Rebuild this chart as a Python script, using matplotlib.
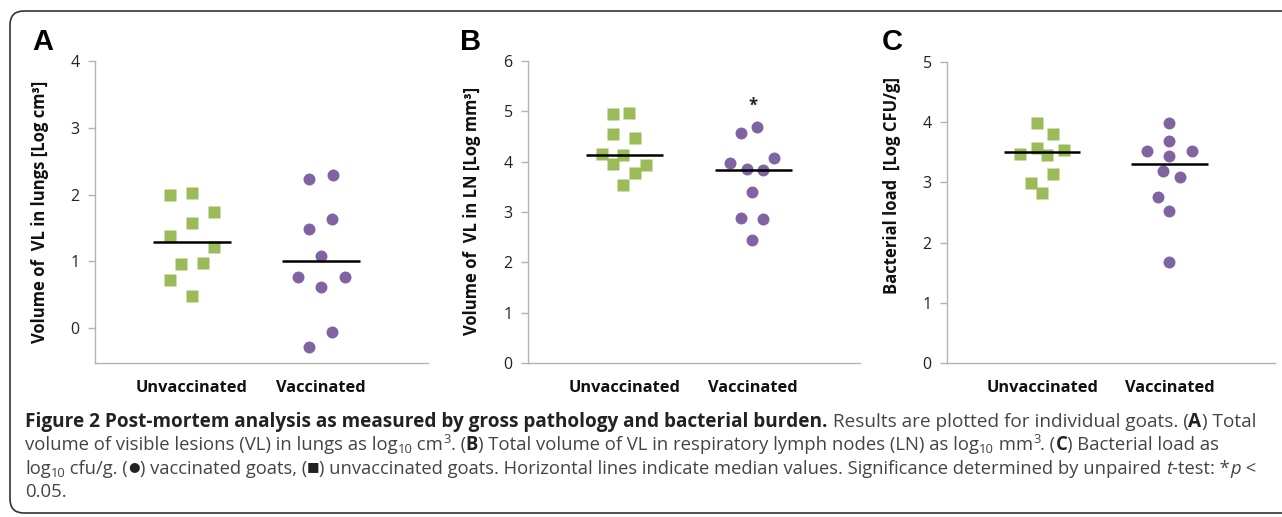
import numpy as np
import matplotlib
matplotlib.use('Agg')
import matplotlib.pyplot as plt
from matplotlib.patches import FancyBboxPatch
from matplotlib.transforms import IdentityTransform

W, H = 1282, 517
GREEN = '#9BBB59'
PURPLE = '#8064A2'
AXIS_GREY = '#b3b3b3'
FONT = ['Open Sans', 'DejaVu Sans']

categories = ['Unvaccinated', 'Vaccinated']

# (A) volume of visible lesions in lungs, log cm3
lung_unvacc = [2.00, 2.02, 1.74, 1.58, 1.38, 1.21, 0.96, 0.97, 0.72, 0.49]
lung_unvacc_jit = [-0.17, 0.0, 0.175, 0.0, -0.17, 0.175, -0.085, 0.085, -0.17, 0.0]
lung_vacc = [2.24, 2.30, 1.64, 1.48, 1.08, 0.76, 0.77, 0.62, -0.05, -0.28]
lung_vacc_jit = [-0.09, 0.095, 0.09, -0.095, 0.0, -0.18, 0.19, 0.0, 0.09, -0.095]
lung_medians = [1.29, 1.01]

# (B) volume of VL in respiratory lymph nodes, log mm3
ln_unvacc = [4.94, 4.97, 4.55, 4.48, 4.15, 4.13, 3.95, 3.94, 3.78, 3.54]
ln_unvacc_jit = [-0.09, 0.035, -0.09, 0.08, -0.175, -0.01, -0.09, 0.17, 0.08, -0.01]
ln_vacc = [4.57, 4.68, 3.97, 3.85, 3.83, 4.08, 3.39, 2.89, 2.86, 2.44]
ln_vacc_jit = [-0.095, 0.03, -0.18, -0.05, 0.075, 0.16, -0.01, -0.095, 0.075, -0.01]
ln_medians = [4.14, 3.83]

# (C) bacterial load, log CFU/g
cfu_unvacc = [3.99, 3.81, 3.48, 3.57, 3.54, 3.45, 3.14, 2.99, 2.82]
cfu_unvacc_jit = [-0.045, 0.08, -0.175, -0.045, 0.17, 0.04, 0.08, -0.09, 0.0]
cfu_vacc = [3.99, 3.68, 3.52, 3.52, 3.44, 3.19, 3.09, 2.75, 2.53, 1.68]
cfu_vacc_jit = [0.0, 0.0, -0.18, 0.18, 0.0, -0.05, 0.08, -0.09, 0.0, 0.0]
cfu_medians = [3.51, 3.31]


def px(x, y):
    # pixel position (from top-left) -> figure fraction
    return x / W, 1 - y / H


def draw_panel(ax, unvacc, unvacc_jit, vacc, vacc_jit, medians, ylim, yticks):
    pos = np.arange(1, len(categories) + 1)
    ax.plot(pos[0] + np.array(unvacc_jit), unvacc, 's', color=GREEN, ms=8, mec='none', zorder=2)
    ax.plot(pos[1] + np.array(vacc_jit), vacc, 'o', color=PURPLE, ms=8.6, mec='none', zorder=2)
    for p, m in zip(pos, medians):
        ax.plot([p - 0.30, p + 0.30], [m, m], color='black', lw=1.8, zorder=3, solid_capstyle='butt')
    ax.set_xlim(0.25, 2.83)
    ax.set_ylim(*ylim)
    ax.set_yticks(yticks)
    ax.set_yticklabels([str(t) for t in yticks], fontfamily=FONT, fontsize=11.5, color='#222222')
    ax.set_xticks(pos)
    ax.set_xticklabels(categories, fontfamily=FONT, fontsize=11.8, fontweight='bold', color='#111111')
    ax.tick_params(axis='x', length=0, pad=12)
    ax.tick_params(axis='y', length=5, width=1, color=AXIS_GREY, pad=6)
    for s in ['top', 'right']:
        ax.spines[s].set_visible(False)
    for s in ['left', 'bottom']:
        ax.spines[s].set_color(AXIS_GREY)
        ax.spines[s].set_linewidth(1.0)


fig = plt.figure(figsize=(W / 100, H / 100), dpi=100)

# axes boxes in pixels: left, right, top, bottom
boxes = [(95, 428, 61, 363), (528, 860, 61, 363), (947, 1275, 62, 363)]
axes = []
for l, r, t, b in boxes:
    axes.append(fig.add_axes([l / W, 1 - b / H, (r - l) / W, (b - t) / H]))

draw_panel(axes[0], lung_unvacc, lung_unvacc_jit, lung_vacc, lung_vacc_jit,
           lung_medians, (-0.52, 4), [0, 1, 2, 3, 4])
draw_panel(axes[1], ln_unvacc, ln_unvacc_jit, ln_vacc, ln_vacc_jit,
           ln_medians, (0, 6), [0, 1, 2, 3, 4, 5, 6])
draw_panel(axes[2], cfu_unvacc, cfu_unvacc_jit, cfu_vacc, cfu_vacc_jit,
           cfu_medians, (0, 5), [0, 1, 2, 3, 4, 5])

# significance marker
axes[1].text(2, 5.12, '*', ha='center', va='center', fontsize=12, fontweight='bold',
             fontfamily=FONT, color='#222222')

# y labels
ylabels = [('Volume of  VL in lungs [Log cm³]', 40, 212),
           ('Volume of  VL in LN [Log mm³]', 472, 211),
           ('Bacterial load  [Log CFU/g]', 892, 186)]
for txt, x, y in ylabels:
    fig.text(*px(x, y), txt, rotation=90, ha='center', va='center', fontsize=12,
             fontweight='bold', fontfamily=FONT, color='#111111')

# panel letters
for letter, x in zip(['A', 'B', 'C'], [43, 471, 892]):
    fig.text(*px(x, 42), letter, ha='center', va='center', fontsize=21,
             fontweight='bold', fontfamily='Liberation Sans', color='black')

# frame
frame = FancyBboxPatch((10, 4), 1500, 502, boxstyle='round,pad=0,rounding_size=14',
                       transform=IdentityTransform(), facecolor='none',
                       edgecolor='#333333', linewidth=1.2, zorder=0)
fig.patches.append(frame)

# caption
renderer = fig.canvas.get_renderer()
CAP_SIZE = 13.4
CAP_COLOR = '#444444'
CAP_LEFT = 25


def put_line(x, y, segs, size):
    texts = []
    for txt, style in segs:
        kw = dict(fontsize=size, color=CAP_COLOR, fontfamily=FONT)
        dy = 0
        if style == 'b':
            kw['fontweight'] = 'bold'
            kw['color'] = '#222222'
        elif style == 'i':
            kw['fontstyle'] = 'italic'
        elif style == 'sub':
            kw['fontsize'] = size * 0.7
            dy = -3
        elif style == 'sup':
            kw['fontsize'] = size * 0.7
            dy = 7
        elif style == 'sym':
            kw['fontsize'] = size * 0.72
            kw['color'] = '#222222'
            dy = 3.5
        t = fig.text(*px(x, y - dy), txt, ha='left', va='baseline', **kw)
        texts.append(t)
        x += t.get_window_extent(renderer).width
    return texts, x


caption = [
    [('Figure 2 Post-mortem analysis as measured by gross pathology and bacterial burden.', 'b'),
     (' Results are plotted for individual goats. (', 'n'), ('A', 'b'), (') Total', 'n')],
    [('volume of visible lesions (VL) in lungs as log', 'n'), ('10', 'sub'), (' cm', 'n'), ('3', 'sup'),
     ('. (', 'n'), ('B', 'b'), (') Total volume of VL in respiratory lymph nodes (LN) as log', 'n'),
     ('10', 'sub'), (' mm', 'n'), ('3', 'sup'), ('. (', 'n'), ('C', 'b'), (') Bacterial load as', 'n')],
    [('log', 'n'), ('10', 'sub'), (' cfu/g. (', 'n'), ('\u25cf', 'sym'), (') vaccinated goats, (', 'n'),
     ('\u25a0', 'sym'),
     (') unvaccinated goats. Horizontal lines indicate median values. '
      'Significance determined by unpaired ', 'n'), ('t', 'i'), ('-test: *', 'n'), ('p', 'i'), (' <', 'n')],
    [('0.05.', 'n')],
]
# right end of each caption line in the reference (pixels)
line_ends = [1262, 1222, 1262, None]

for i, segs in enumerate(caption):
    y = 427 + i * 23.3
    texts, end = put_line(CAP_LEFT, y, segs, CAP_SIZE)
    if line_ends[i] is not None:
        size = CAP_SIZE * (line_ends[i] - CAP_LEFT) / (end - CAP_LEFT)
        for t in texts:
            t.remove()
        put_line(CAP_LEFT, y, segs, size)

fig.savefig('out.png', dpi=100)
